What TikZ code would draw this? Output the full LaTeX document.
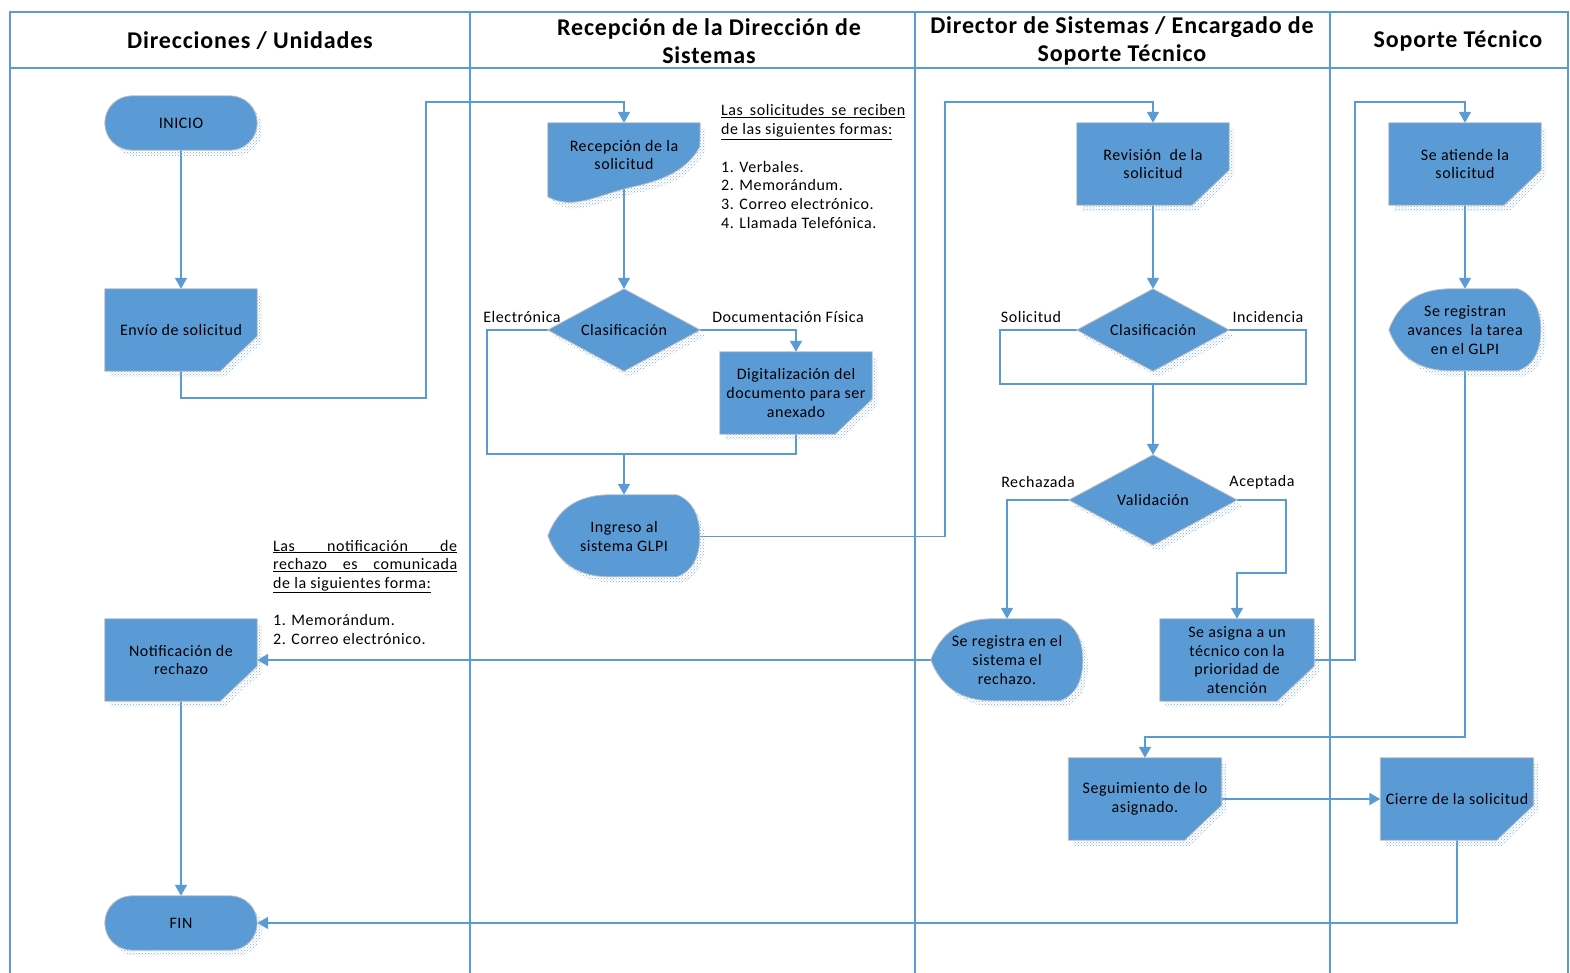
\documentclass[tikz,border=0pt]{standalone}
\usepackage{fontspec}
\setmainfont{Carlito}[LetterSpace=3.5]
\usetikzlibrary{arrows.meta,calc,patterns}
\definecolor{vblue}{HTML}{5B9BD5}
\definecolor{sblue}{HTML}{7FAEDC}
\pgfdeclarelayer{bg}
\pgfdeclarelayer{shp}
\pgfsetlayers{bg,shp,main}
\newcommand\myul[1]{\underline{#1}}
\newcommand\myjul[1]{\underline{\makebox[184pt][s]{#1}}}
\begin{document}
\begin{tikzpicture}[x=1pt,y=-1pt,
  lane/.style={draw=vblue, line width=1.6pt},
  conn/.style={draw=vblue, line width=1.8pt, -{Triangle[length=11pt,width=12pt]}},
  plain/.style={draw=vblue, line width=1.8pt},
  shp/.style={fill=vblue, draw=black!25, line width=0.8pt},
  shadowp/.style={pattern=crosshatch dots, pattern color=sblue},
  nbox/.style={align=center, inner sep=0pt, font=\fontsize{16}{18.6}\selectfont,
    minimum width=152pt, minimum height=82pt},
  lbl/.style={font=\fontsize{16}{18.6}\selectfont, inner sep=0pt},
  hdr/.style={font=\bfseries\fontsize{24}{28}\selectfont, align=center, inner sep=0pt}]
\useasboundingbox (0,0) rectangle (1570,973);

% ---------- lanes ----------
\begin{pgfonlayer}{bg}
\draw[lane] (10,1000) -- (10,12) -- (1568,12) -- (1568,1000);
\draw[lane] (10,68) -- (1568,68);
\draw[lane] (470,12) -- (470,1000);
\draw[lane] (915,12) -- (915,1000);
\draw[lane] (1330,12) -- (1330,1000);
\end{pgfonlayer}

\node[hdr] (h1) at (250,41) {Direcciones / Unidades};
\node[hdr] (h2) at (709,41) {Recepción de la Dirección de\\Sistemas};
\node[hdr] (h3) at (1122,41) {Director de Sistemas / Encargado de\\Soporte Técnico};
\node[hdr] (h4) at (1458,41) {Soporte Técnico};

% ---------- nodes ----------
\node[nbox, minimum height=54pt] (inicio) at (181,123) {INICIO};
\node[nbox] (envio) at (181,330) {Envío de solicitud};
\node[nbox] (notif) at (181,660) {Notificación de\\rechazo};
\node[nbox, minimum height=54pt] (fin) at (181,923) {FIN};

\node[nbox, minimum height=64pt] (rec) at (624,155) {Recepción de la\\solicitud};
\node[nbox] (clas1) at (624,330) {Clasificación};
\node[nbox] (dig) at (796,393) {Digitalización del\\documento para ser\\anexado};
\node[nbox, minimum height=83pt] (ingreso) at (624,536.5) {Ingreso al\\sistema GLPI};

\node[nbox] (rev) at (1153,164) {Revisión\ \ de la\\solicitud};
\node[nbox] (clas2) at (1153,330) {Clasificación};
\node[nbox, minimum width=168pt, minimum height=90pt] (val) at (1153,500) {Validación};
\node[nbox] (regrech) at (1007,660) {Se registra en el\\sistema el\\rechazo.};
\node[nbox, minimum width=154pt] (asigna) at (1237,660) {Se asigna a un\\técnico con la\\prioridad de\\atención};
\node[nbox, minimum width=153pt] (seg) at (1145,799) {Seguimiento de lo\\asignado.};
\node[nbox, minimum width=153pt] (cierre) at (1457,799) {Cierre de la solicitud};

\node[nbox] (atiende) at (1465,164) {Se atiende la\\solicitud};
\node[nbox] (avances) at (1465,330) {Se registran\\avances\ \ la tarea\\en el GLPI};

% ---------- notes ----------
\node[inner sep=0pt, anchor=base west, font=\fontsize{16}{18.7}\selectfont] (note1) at (721,116)
 {\parbox[t]{184pt}{\baselineskip=18.7pt\parindent=0pt
  \myjul{Las solicitudes se reciben}\par
  \myul{de las siguientes formas:}\par
  \mbox{}\par
  1. Verbales.\par
  2. Memorándum.\par
  3. Correo electrónico.\par
  4. Llamada Telefónica.}};
\node[inner sep=0pt, anchor=base west, font=\fontsize{16}{18.7}\selectfont] (note2) at (273,551)
 {\parbox[t]{184pt}{\baselineskip=18.7pt\parindent=0pt
  \myjul{Las notificación de}\par
  \myjul{rechazo es comunicada}\par
  \myul{de la siguientes forma:}\par
  \mbox{}\par
  1. Memorándum.\par
  2. Correo electrónico.}};

% ---------- connector labels ----------
\node[lbl] (l1) at (522,317) {Electrónica};
\node[lbl] (l2) at (788,317) {Documentación Física};
\node[lbl] (l3) at (1031,317) {Solicitud};
\node[lbl] (l4) at (1268,317) {Incidencia};
\node[lbl] (l5) at (1038,482) {Rechazada};
\node[lbl] (l6) at (1262,482) {Aceptada};

% ---------- shapes ----------
\begin{pgfonlayer}{shp}
\foreach \n in {envio,notif,dig,rev,asigna,seg,cierre,atiende} {
  \fill[shadowp, transform canvas={shift={(5pt,-6pt)}}] (\n.north west) -- (\n.north east) -- ([yshift=35pt]\n.south east) -- ([xshift=-37pt]\n.south east) -- (\n.south west) -- cycle;
  \draw[shp] (\n.north west) -- (\n.north east) -- ([yshift=35pt]\n.south east) -- ([xshift=-37pt]\n.south east) -- (\n.south west) -- cycle;
}
\foreach \n in {inicio,fin} {
  \fill[shadowp, rounded corners=27pt, transform canvas={shift={(5pt,-6pt)}}] (\n.north west) rectangle (\n.south east);
  \draw[shp, rounded corners=27pt] (\n.north west) rectangle (\n.south east);
}
\foreach \n in {clas1,clas2,val} {
  \fill[shadowp, transform canvas={shift={(5pt,-6pt)}}] (\n.north) -- (\n.east) -- (\n.south) -- (\n.west) -- cycle;
  \draw[shp] (\n.north) -- (\n.east) -- (\n.south) -- (\n.west) -- cycle;
}
\foreach \n in {ingreso,regrech,avances} {
  \foreach \s in {0,1} {
  \ifnum\s=0 \tikzset{cur/.style={shadowp, draw=none, transform canvas={shift={(5pt,-6pt)}}}}\else\tikzset{cur/.style={shp}}\fi
  \path[cur] ($(\n.north west)+(0,41)$) .. controls ($(\n.north west)+(10,14)$) and ($(\n.north west)+(30,0)$) .. ($(\n.north west)+(62,0)$)
    -- ($(\n.north west)+(129,0)$) .. controls ($(\n.north west)+(146,6)$) and ($(\n.north west)+(152,24)$) .. ($(\n.north west)+(152,41)$)
    .. controls ($(\n.north west)+(152,60)$) and ($(\n.north west)+(146,76)$) .. ($(\n.north west)+(129,82)$)
    -- ($(\n.north west)+(62,82)$) .. controls ($(\n.north west)+(30,82)$) and ($(\n.north west)+(10,68)$) .. ($(\n.north west)+(0,41)$) -- cycle;
  }
}
\foreach \s in {0,1} {
  \ifnum\s=0 \tikzset{cur/.style={shadowp, draw=none, transform canvas={shift={(5pt,-6pt)}}}}\else\tikzset{cur/.style={shp}}\fi
  \path[cur] (rec.north west) -- (rec.north east) -- ($(rec.north west)+(152,24)$)
    .. controls ($(rec.north west)+(140,46)$) and ($(rec.north west)+(118,57)$) .. ($(rec.north west)+(85,64)$)
    .. controls ($(rec.north west)+(50,72)$) and ($(rec.north west)+(25,88)$) .. ($(rec.north west)+(0,74)$) -- cycle;
}
\end{pgfonlayer}

% ---------- connectors ----------
\begin{pgfonlayer}{bg}
\draw[conn] (inicio) -- (envio);
\draw[conn] (envio.south) -- ++(0,27) -| (426,102) -| (rec.north);
\draw[conn] (rec.south) -- (clas1.north);
\coordinate (j1) at (624,454);
\draw[plain] (clas1.west) -| (487,454) -| (dig.south);
\draw[conn] (j1) -- (ingreso.north);
\draw[conn] (clas1.east) -| (dig.north);
\draw[conn] (ingreso.east) -| (945,102) -| (rev.north);
\draw[conn] (rev) -- (clas2);
\coordinate (j2) at (1153,384);
\draw[plain] (clas2.west) -| (1000,384) -| (1306,330) -- (clas2.east);
\draw[conn] (j2) -- (val.north);
\draw[conn] (val.west) -| (regrech.north);
\draw[conn] (val.east) -| (1286,573) -| (asigna.north);
\draw[conn] (regrech.west) -- (notif.east);
\draw[conn] (asigna.east) -| (1355,102) -| (atiende.north);
\draw[conn] (atiende) -- (avances);
\draw[conn] (avances.south) -- (1465,737) -| (seg.north);
\draw[conn] (seg.east) -- (cierre.west);
\draw[conn] (cierre.south) |- (fin.east);
\draw[conn] (notif) -- (fin);
\end{pgfonlayer}
\end{tikzpicture}
\end{document}
